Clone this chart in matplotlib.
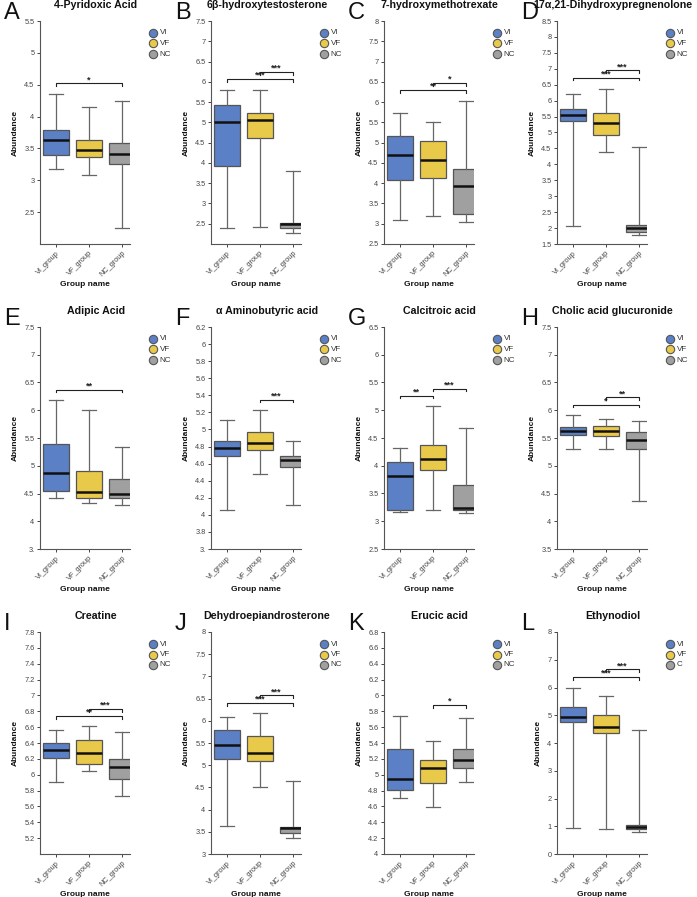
import matplotlib
matplotlib.use("Agg")
import matplotlib.pyplot as plt
import numpy as np

plt.rcParams['font.family'] = ['Liberation Sans', 'DejaVu Sans']

letters = list("ABCDEFGHIJKL")
titles = ["4-Pyridoxic Acid", "6β-hydroxytestosterone", "7-hydroxymethotrexate",
          "17α,21-Dihydroxypregnenolone", "Adipic Acid", "α Aminobutyric acid",
          "Calcitroic acid", "Cholic acid glucuronide", "Creatine",
          "Dehydroepiandrosterone", "Erucic acid", "Ethynodiol"]
categories = ["VI_group", "VF_group", "NC_group"]
legend_labels = [["VI", "VF", "NC"]] * 11 + [["VI", "VF", "C"]]

# stats per group: [whisker_low, q1, median, q3, whisker_high]
vi_stats = [
    [3.17, 3.39, 3.63, 3.79, 4.35],
    [2.40, 3.93, 5.00, 5.44, 5.80],
    [3.10, 4.07, 4.70, 5.16, 5.72],
    [2.05, 5.35, 5.56, 5.73, 6.22],
    [4.42, 4.55, 4.87, 5.40, 6.19],
    [4.06, 4.69, 4.78, 4.87, 5.11],
    [3.16, 3.21, 3.81, 4.06, 4.32],
    [5.31, 5.55, 5.62, 5.70, 5.92],
    [5.91, 6.21, 6.31, 6.40, 6.56],
    [3.62, 5.15, 5.46, 5.80, 6.08],
    [4.71, 4.81, 4.95, 5.32, 5.74],
    [0.95, 4.75, 4.95, 5.30, 6.00],
]
vf_stats = [
    [3.08, 3.37, 3.48, 3.64, 4.15],
    [2.43, 4.61, 5.05, 5.23, 5.80],
    [3.19, 4.13, 4.56, 5.03, 5.51],
    [4.39, 4.93, 5.31, 5.60, 6.38],
    [4.33, 4.41, 4.53, 4.90, 6.01],
    [4.48, 4.76, 4.84, 4.97, 5.23],
    [3.20, 3.93, 4.13, 4.38, 5.08],
    [5.31, 5.54, 5.62, 5.72, 5.84],
    [6.05, 6.14, 6.27, 6.44, 6.61],
    [4.51, 5.10, 5.27, 5.65, 6.17],
    [4.59, 4.90, 5.09, 5.18, 5.43],
    [0.90, 4.35, 4.58, 5.00, 5.68],
]
nc_stats = [
    [2.25, 3.25, 3.41, 3.58, 4.25],
    [2.27, 2.39, 2.49, 2.53, 3.79],
    [3.05, 3.24, 3.93, 4.36, 6.02],
    [1.77, 1.88, 2.00, 2.10, 4.56],
    [4.29, 4.42, 4.49, 4.77, 5.34],
    [4.11, 4.56, 4.64, 4.69, 4.87],
    [3.14, 3.20, 3.23, 3.65, 4.68],
    [4.36, 5.31, 5.47, 5.61, 5.81],
    [5.73, 5.95, 6.10, 6.20, 6.54],
    [3.35, 3.47, 3.58, 3.60, 4.64],
    [4.91, 5.08, 5.19, 5.32, 5.72],
    [0.80, 0.90, 0.97, 1.05, 4.47],
]
# significance brackets: (group_i, group_j, y, label)
sig = [
    [(0, 2, 4.52, "*")],
    [(0, 2, 6.07, "***"), (1, 2, 6.24, "***")],
    [(0, 2, 6.29, "**"), (1, 2, 6.47, "*")],
    [(0, 2, 6.72, "***"), (1, 2, 6.95, "***")],
    [(0, 2, 6.37, "**")],
    [(1, 2, 5.35, "***")],
    [(0, 1, 5.26, "**"), (1, 2, 5.39, "***")],
    [(0, 2, 6.10, "*"), (1, 2, 6.23, "**")],
    [(0, 2, 6.74, "**"), (1, 2, 6.83, "***")],
    [(0, 2, 6.40, "***"), (1, 2, 6.57, "***")],
    [(1, 2, 5.88, "*")],
    [(0, 2, 6.37, "***"), (1, 2, 6.65, "***")],
]
y_min = [2.0, 2.0, 2.5, 1.5, 3.5, 3.6, 2.5, 3.5, 5.0, 3.0, 4.0, 0.0]
y_max = [5.5, 7.5, 8.0, 8.5, 7.5, 6.2, 6.5, 7.5, 7.8, 8.0, 6.8, 8.0]
tick_start = [2.5, 2.5, 2.5, 1.5, 3.5, 3.6, 2.5, 3.5, 5.2, 3.0, 4.0, 0.0]
tick_step = [0.5, 0.5, 0.5, 0.5, 0.5, 0.2, 0.5, 0.5, 0.2, 0.5, 0.2, 1.0]
truncated_bottom = [False, False, False, False, True, True, False, False, False, False, False, False]

colors = ["#5b80c6", "#e9c94a", "#a0a0a0"]
edge = "#555555"

W, H = 697, 897
fig = plt.figure(figsize=(W / 100, H / 100), dpi=100)

col_left = [40, 211, 384, 557]
row_top = [21, 327, 632]
row_bot = [244, 549, 854]
ax_w = 90

for k in range(12):
    r, c = divmod(k, 4)
    left = col_left[c] / W
    bottom = 1 - row_bot[r] / H
    hpx = row_bot[r] - row_top[r]
    height = hpx / H
    ax = fig.add_axes([left, bottom, ax_w / W, height])

    stats = []
    for g, s in enumerate([vi_stats[k], vf_stats[k], nc_stats[k]]):
        stats.append(dict(whislo=s[0], q1=s[1], med=s[2], q3=s[3], whishi=s[4],
                          fliers=[], label=categories[g]))
    bp = ax.bxp(stats, positions=[0, 1, 2], widths=0.8, patch_artist=True,
                showfliers=False, capwidths=0.4,
                boxprops=dict(edgecolor=edge, linewidth=0.9),
                whiskerprops=dict(color="#666666", linewidth=0.9),
                capprops=dict(color="#666666", linewidth=0.9),
                medianprops=dict(color="#111111", linewidth=1.8))
    for patch, col in zip(bp["boxes"], colors):
        patch.set_facecolor(col)

    ax.set_xlim(-0.48, 2.24)
    ax.set_ylim(y_min[k], y_max[k])
    ticks = np.arange(tick_start[k], y_max[k] + 1e-6, tick_step[k])
    ax.set_yticks(ticks)
    labels = [f"{round(t, 2):g}" for t in ticks]
    if truncated_bottom[k]:
        labels[0] = "3."
    ax.set_yticklabels(labels)
    ax.set_xticks([0, 1, 2])
    ax.set_xticklabels(categories, rotation=45, ha="right", rotation_mode="anchor")
    ax.tick_params(axis="both", labelsize=5.3, colors="#444444", length=2.5, width=0.7, pad=1.5)
    for sp in ["top", "right"]:
        ax.spines[sp].set_visible(False)
    for sp in ["left", "bottom"]:
        ax.spines[sp].set_color("#555555")
        ax.spines[sp].set_linewidth(0.8)

    ax.set_ylabel("Abundance", fontsize=6, fontweight="bold", labelpad=4, color="#111111")
    ax.set_xlabel("Group name", fontsize=6, fontweight="bold", labelpad=2, color="#111111")

    # title & letter
    ax.text(0.62, 1.0 + 16 / hpx, titles[k], transform=ax.transAxes,
            ha="center", va="center", fontsize=7.7, fontweight="bold", color="#111111")
    fig.text((col_left[c] - 36) / W, 1 - (row_top[r] - 8) / H, letters[k],
             fontsize=17, ha="left", va="center", color="#111111")

    # significance
    yr = y_max[k] - y_min[k]
    for (i, j, yv, lab) in sig[k]:
        drop = 0.012 * yr
        ax.plot([i, i, j, j], [yv - drop, yv, yv, yv - drop], color="#222222",
                linewidth=0.8, clip_on=False)
        ax.text((i + j) / 2, yv - 0.003 * yr, lab, ha="center", va="bottom",
                fontsize=6.5, fontweight="bold", color="#222222")

    # legend
    for n, (lab, col) in enumerate(zip(legend_labels[k], colors)):
        yy = 1 - (12 + n * 10.5) / hpx
        ax.plot([1.25], [yy], marker="o", markersize=6, markerfacecolor=col,
                markeredgecolor="#555555", markeredgewidth=0.8,
                transform=ax.transAxes, clip_on=False)
        ax.text(1.33, yy, lab, transform=ax.transAxes, fontsize=5.8,
                va="center", ha="left", color="#333333")

fig.savefig("out.png", dpi=100)
